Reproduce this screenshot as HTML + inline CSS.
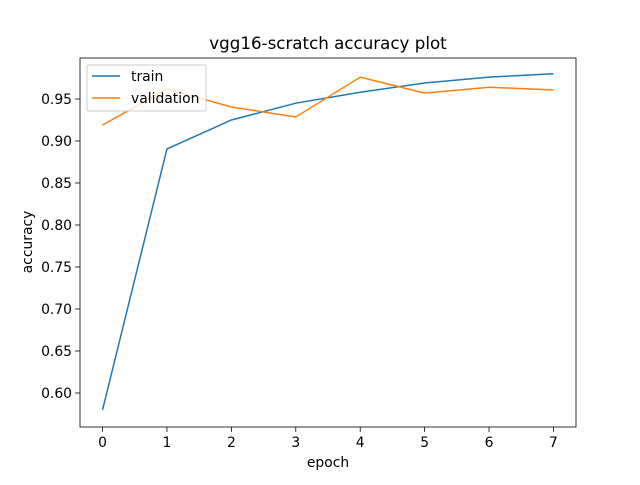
<!DOCTYPE html>
<html><head><meta charset="utf-8"><style>
body{margin:0;background:#fff;}
svg text{font-family:"DejaVu Sans","Liberation Sans",sans-serif;fill:#000;}
</style></head><body>
<svg id="chart" width="640" height="480" xmlns="http://www.w3.org/2000/svg">
<rect width="640" height="480" fill="#fff"/>
<text x="328" y="49" font-size="16.7" text-anchor="middle">vgg16-scratch accuracy plot</text>
<g id="plot"></g>
<text x="328" y="467" font-size="13.9" text-anchor="middle">epoch</text>
<text transform="translate(32,242) rotate(-90)" font-size="13.9" text-anchor="middle">accuracy</text>
</svg>
<script>
const epochs=[0,1,2,3,4,5,6,7];
const trainAcc=[0.580,0.8905,0.925,0.945,0.958,0.969,0.976,0.980];
const valAcc=[0.919,0.962,0.9405,0.9286,0.976,0.957,0.964,0.9607];
const yTicks=[0.60,0.65,0.70,0.75,0.80,0.85,0.90,0.95];
const xTicks=[0,1,2,3,4,5,6,7];
const L=80,R=576,T=58,B=427;
const xMin=-0.35,xMax=7.35,yMin=0.5595,yMax=0.9988;
const xs=v=>L+(v-xMin)/(xMax-xMin)*(R-L);
const ys=v=>B-(v-yMin)/(yMax-yMin)*(B-T);
const NS="http://www.w3.org/2000/svg";
const g=document.getElementById('plot');
function mk(t,a){const e=document.createElementNS(NS,t);for(const k in a)e.setAttribute(k,a[k]);g.appendChild(e);return e;}
xTicks.forEach(t=>{
 const l=mk('line',{x1:xs(t),x2:xs(t),y1:B,y2:B+4.9,stroke:'#000','stroke-width':0.8});
 
 
 const tx=mk('text',{x:xs(t),y:B+20,'font-size':13.9,'text-anchor':'middle'});tx.textContent=t;
 
 
});
yTicks.forEach(t=>{
 const l=mk('line',{x1:L-4.9,x2:L,y1:ys(t),y2:ys(t),stroke:'#000','stroke-width':0.8});
 
 
 const tx=mk('text',{x:L-8,y:ys(t)+5,'font-size':13.9,'text-anchor':'end'});tx.textContent=t.toFixed(2);
 
 
});
function series(d,c,n){
 const p=mk('polyline',{points:d.map((v,i)=>xs(epochs[i])+','+ys(v)).join(' '),fill:'none',stroke:c,'stroke-width':1.5});
 
 
}
series(trainAcc,'#1f77b4','train-line');
series(valAcc,'#ff7f0e','validation-line');
const f=mk('rect',{x:L,y:T,width:R-L,height:B-T,fill:'none',stroke:'#000','stroke-width':0.8});


const lg=mk('rect',{x:87,y:65,width:119,height:46,rx:2,fill:'#fff','fill-opacity':0.8,stroke:'#ccc'});


[['train','#1f77b4',76],['validation','#ff7f0e',98]].forEach(([n,c,y])=>{
 const l=mk('line',{x1:92,x2:120,y1:y,y2:y,stroke:c,'stroke-width':1.5});
 
 
 const t=mk('text',{x:131,y:y+5,'font-size':13.9});t.textContent=n;
 
 
});
</script>
</body></html>
